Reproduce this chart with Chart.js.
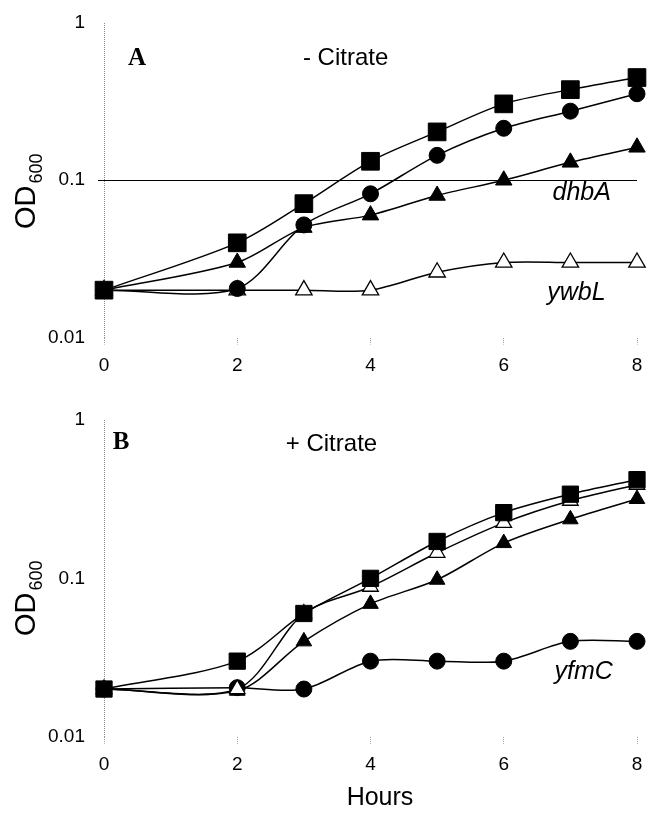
<!DOCTYPE html>
<html lang="en">
<head>
    <meta charset="UTF-8">
    <title>Growth curves OD600</title>
    <script src="https://cdn.jsdelivr.net/npm/chart.js"></script>
    <style>
        body {
            margin: 0;
            background: #fff;
        }
        .panel {
            position: absolute;
            left: 0;
        }
        #panelA { top: 0; }
        #panelB { top: 400px; }
    </style>
</head>
<body>

    <canvas id="panelA" class="panel" width="647" height="400"></canvas>
    <canvas id="panelB" class="panel" width="647" height="414"></canvas>

    <script>
        // sampling times (hours) and axis ticks
        const hours = [0, 2, 3, 4, 5, 6, 7, 8];
        const xTicks = [0, 2, 4, 6, 8];
        const yTicks = [0.01, 0.1, 1];
        const yTickLabels = ['0.01', '0.1', '1'];

        // panel A: - Citrate
        const aSquare   = [0.02, 0.040, 0.071, 0.132, 0.203, 0.306, 0.377, 0.450];
        const aCircle   = [0.02, 0.0205, 0.052, 0.082, 0.144, 0.214, 0.275, 0.355];
        const aTriFill  = [0.02, 0.030, 0.050, 0.060, 0.080, 0.100, 0.130, 0.162];
        const aTriOpen  = [0.02, 0.020, 0.020, 0.020, 0.026, 0.030, 0.030, 0.030];

        // panel B: + Citrate
        const bSquare   = [0.02, 0.030, 0.060, 0.100, 0.171, 0.260, 0.340, 0.420];
        const bTriOpen  = [0.02, 0.020, 0.060, 0.0885, 0.145, 0.224, 0.309, 0.390];
        const bTriFill  = [0.02, 0.0195, 0.040, 0.069, 0.098, 0.167, 0.236, 0.317];
        const bCircle   = [0.02, 0.0204, 0.020, 0.030, 0.030, 0.030, 0.040, 0.040];

        const FONT = '"Liberation Sans", Arial, sans-serif';

        // text annotations, y-axis title with subscript, x-axis title
        const panelText = {
            id: 'panelText',
            afterDraw(chart, args, opts) {
                const { ctx, scales: { x, y } } = chart;
                ctx.save();
                ctx.fillStyle = '#000';
                ctx.textAlign = 'center';
                ctx.textBaseline = 'middle';
                opts.items.forEach(t => {
                    ctx.font = t.font;
                    ctx.fillText(t.text, x.getPixelForValue(t.x), y.getPixelForValue(t.y));
                });

                // OD600, rotated
                ctx.translate(opts.odX, opts.odY);
                ctx.rotate(-Math.PI / 2);
                ctx.textAlign = 'left';
                ctx.textBaseline = 'alphabetic';
                ctx.font = '29px ' + FONT;
                ctx.fillText('OD', 0, 0);
                const w = ctx.measureText('OD').width;
                ctx.font = '18px ' + FONT;
                ctx.fillText('600', w + 2, 7);
                ctx.restore();

                if (opts.xTitle) {
                    ctx.save();
                    ctx.fillStyle = '#000';
                    ctx.textAlign = 'center';
                    ctx.textBaseline = 'middle';
                    ctx.font = '25px ' + FONT;
                    ctx.fillText(opts.xTitle.text, opts.xTitle.px, opts.xTitle.py);
                    ctx.restore();
                }
            }
        };

        function series(values, style, radius, open) {
            return {
                data: values.map((v, i) => ({ x: hours[i], y: v })),
                pointStyle: style,
                pointRadius: radius,
                pointBorderWidth: open ? 1.3 : 1,
                pointBorderColor: '#000',
                pointBackgroundColor: open ? '#fff' : '#000',
                borderColor: '#000',
                borderWidth: 1.5,
                tension: 0.3,
                fill: false,
                clip: false
            };
        }

        function drawPanel(id, datasets, refLine, xAxisHeight, topPad, textOpts) {
            const hidden = 'rgba(0,0,0,0)';
            const refColor = c => (refLine && c.tick && c.tick.value === 0.1) ? '#000' : hidden;
            // dotted vertical line at x = 0 acts as the y axis
            const axisColor = c => (c.tick && c.tick.value === 0) ? '#8a8a8a' : hidden;

            new Chart(document.getElementById(id), {
                type: 'line',
                data: { datasets: datasets },
                plugins: [panelText],
                options: {
                    responsive: false,
                    animation: false,
                    devicePixelRatio: 1,
                    // markers may overhang the plot edges, as in the original
                    layout: { autoPadding: false, padding: { top: topPad, right: 10, left: 0, bottom: 0 } },
                    plugins: {
                        legend: { display: false },
                        tooltip: { enabled: false },
                        panelText: textOpts
                    },
                    scales: {
                        x: {
                            type: 'linear',
                            min: 0,
                            max: 8,
                            afterBuildTicks: s => { s.ticks = xTicks.map(v => ({ value: v })); },
                            afterFit: s => { s.height = xAxisHeight; },
                            grid: {
                                drawOnChartArea: true,
                                color: axisColor,
                                lineWidth: 1,
                                drawTicks: true,
                                tickLength: 7,
                                tickColor: '#9a9a9a',
                                tickBorderDash: [1, 1],
                                tickWidth: 1
                            },
                            border: { display: false, dash: [1, 1] },
                            ticks: {
                                color: '#000',
                                // tall line box pushes the labels down without side padding
                                font: { family: FONT, size: 19, lineHeight: 2.2 },
                                padding: 0,
                                maxRotation: 0
                            }
                        },
                        y: {
                            type: 'logarithmic',
                            min: 0.01,
                            max: 1,
                            afterBuildTicks: s => { s.ticks = yTicks.map(v => ({ value: v })); },
                            afterFit: s => { s.width = 104; },
                            grid: {
                                color: refColor,
                                tickColor: refColor,
                                drawTicks: true,
                                tickLength: 6,
                                lineWidth: 1
                            },
                            border: { display: false },
                            ticks: {
                                color: '#000',
                                font: { family: FONT, size: 19, lineHeight: 0.5 },
                                padding: 13,
                                callback: (v, i) => yTickLabels[i]
                            }
                        }
                    }
                }
            });
        }

        // first dataset is drawn on top
        drawPanel('panelA', [
            series(aSquare, 'rect', 12.5, false),
            series(aCircle, 'circle', 8, false),
            series(aTriFill, 'triangle', 9.5, false),
            series(aTriOpen, 'triangle', 9.5, true)
        ], true, 62.5, 23, {
            items: [
                { text: 'A', x: 0.495, y: 0.592, font: 'bold 25px "Liberation Serif", serif' },
                { text: '- Citrate', x: 3.626, y: 0.598, font: '24px ' + FONT },
                { text: 'dhbA', x: 7.17, y: 0.0829, font: 'italic 25px ' + FONT },
                { text: 'ywbL', x: 7.09, y: 0.0191, font: 'italic 25px ' + FONT }
            ],
            odX: 35,
            odY: 229
        });

        drawPanel('panelB', [
            series(bSquare, 'rect', 11.5, false),
            series(bTriOpen, 'triangle', 9, true),
            series(bCircle, 'circle', 8, false),
            series(bTriFill, 'triangle', 9, false)
        ], false, 77.3, 20, {
            items: [
                { text: 'B', x: 0.255, y: 0.719, font: 'bold 25px "Liberation Serif", serif' },
                { text: '+ Citrate', x: 3.414, y: 0.703, font: '24px ' + FONT },
                { text: 'yfmC', x: 7.2, y: 0.0256, font: 'italic 25px ' + FONT }
            ],
            odX: 35,
            odY: 236,
            xTitle: { text: 'Hours', px: 380, py: 398 }
        });
    </script>

</body>
</html>
